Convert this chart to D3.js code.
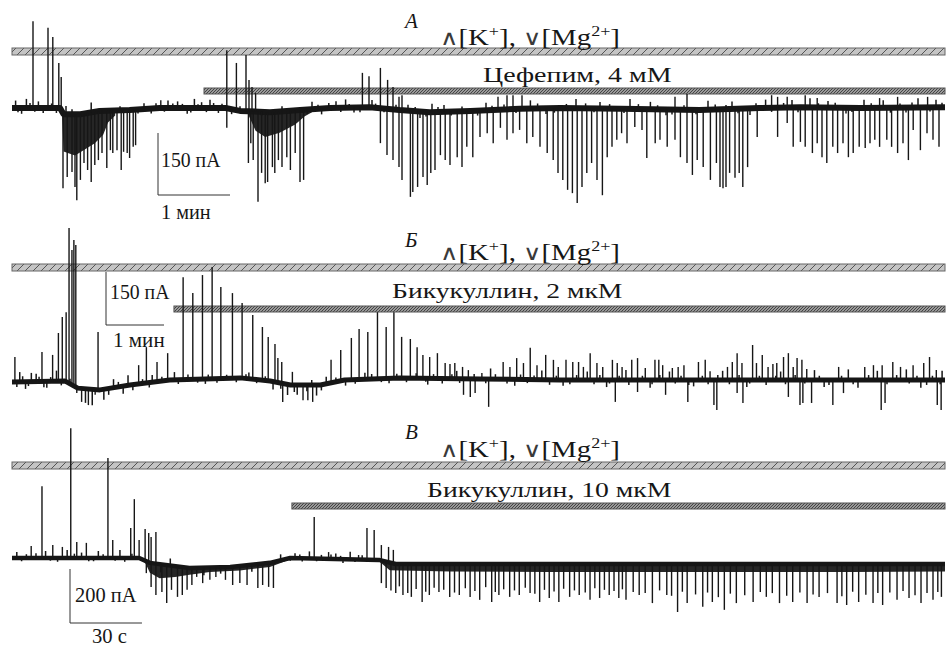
<!DOCTYPE html>
<html>
<head>
<meta charset="utf-8">
<script src="https://cdn.jsdelivr.net/npm/d3@7"></script>
<style>
  body { margin: 0; background: #fff; }
  text { font-family: "Liberation Serif", "Times New Roman", "DejaVu Serif", serif; }
</style>
</head>
<body>
<svg id="fig" width="946" height="646"></svg>
<script>
// ---------- data (time in s, current in pA relative to the starting holding level) ----------
// Panel A — cefepime
const baseA = [[0,0],[40,0],[43,-15],[57,-15],[73,-7],[98,-5],[123,0],[178,0],[190,-7],[215,-10],[240,-5],[265,0],[298,2],[323,-5],[348,-10],[382,-7],[423,-2],[457,0],[507,-2],[573,-5],[623,0],[657,2],[707,0],[777.5,2]];
const envA = [
  [[41.7,-15],[43,-105],[52.5,-115],[61,-100],[69,-85],[76,-65],[80,-35],[86,-18]],
  [[196,-10],[203,-55],[211,-70],[223,-60],[236,-40],[244,-20],[250,-10]]
];
const upA = [[17.5,210],[30,194],[34,172],[39,109],[41,75],[124,19],[179,140],[187,109],[195,128],[197.5,68],[200,51],[203,36],
  [292,85],[297.5,77],[307,97],[313,68],[317.5,51],[322.5,27],[325,31],[405,27],[412.5,31],[417.5,31],[425,31],
  [552.5,27],[562.5,34],[633,31],[638,27],[646,27],[661,31],[671,24],[723,24],[738,27],[763,27]];
const downA = [[42.5,-194],[46,-167],[50,-155],[52.5,-191],[54,-223],[57,-174],[60,-133],[63,-150],[66,-179],[69,-138],[72,-126],
  [75,-109],[79,-145],[82,-102],[84,-109],[87.5,-102],[91,-150],[93,-106],[96,-109],[98,-121],[101,-94],[103,-90],
  [179,-48],[197,-133],[199,-85],[201,-126],[205,-227],[208,-157],[211,-182],[213,-179],[217,-143],[219,-157],[222,-126],
  [225,-143],[229,-119],[232,-150],[236,-109],[240,-179],[243,-174],
  [307,-85],[312.5,-114],[317.5,-126],[322.5,-143],[325,-174],[332,-215],[334,-203],[338,-191],[342.5,-167],[346,-186],
  [349,-157],[352.5,-150],[357,-114],[361,-126],[365,-138],[371,-119],[375,-143],[379,-94],[384,-119],[390,-70],[396,-61],
  [401,-85],[407,-48],[412.5,-77],[417.5,-61],[423,-53],[429,-85],[434,-70],[440,-94],[446,-109],[451,-126],[455,-157],
  [459,-174],[463,-198],[467,-206],[471,-230],[475,-191],[479,-157],[483,-133],[487.5,-174],[492,-211],[496,-119],[500,-94],
  [504,-77],[508,-61],[512.5,-85],[519,-46],[525,-53],[529,-121],[536,-85],[540,-77],[546,-94],[552.5,-77],[557,-119],
  [562.5,-133],[567,-162],[571,-126],[576,-143],[582,-174],[587,-133],[590,-191],[592.5,-194],[595,-191],[598,-157],
  [602.5,-169],[606,-157],[609,-191],[613,-143],[621,-70],[638,-70],[646,-36],[651,-94],[657,-82],[661,-94],[667,-109],
  [671,-85],[675,-119],[679,-133],[684,-94],[688,-109],[692.5,-85],[697,-119],[701,-109],[706,-94],[711,-97],[715,-85],
  [719,-77],[723,-94],[729,-77],[733,-94],[738,-109],[742.5,-85],[747,-126],[751,-53],[757,-102],[762.5,-61],[767.5,-77],[772.5,-94]];
const noiseA = [[3,18],[8,-14],[12,22],[22,16],[26,-12],[45,20],[66,24],[110,14],[116,-12],[130,18],[138,16],[146,-14],[152,22],
  [158,14],[165,20],[172,-12],[250,18],[258,-14],[270,16],[278,20],[285,-12],[300,18],[330,14],[340,-16],[350,20],[360,16],
  [395,18],[432,20],[445,-14],[470,22],[490,16],[515,24],[532,18],[545,-14],[580,22],[600,18],[615,-16],[628,20],[650,18],
  [665,22],[680,16],[695,-14],[710,20],[726,18],[745,-12],[755,22],[770,18],
  [5,-10],[15,12],[19,-9],[33,11],[37,-12],[50,12],[90,10],[105,-10],[120,12],[127,-9],[134,11],[142,10],[149,-11],[155,9],
  [162,-10],[168,12],[175,10],[183,-12],[190,11],[208,-10],[225,12],[246,-11],[255,10],[264,12],[274,-10],[281,9],[290,-12],
  [303,10],[310,-9],[320,12],[336,10],[345,-11],[355,12],[366,-10],[375,11],[388,-12],[400,10],[410,12],[420,-10],[438,12],
  [452,-11],[462,10],[478,12],[485,-9],[498,11],[510,-10],[522,12],[538,10],[550,-12],[560,11],[570,-10],[586,12],[595,10],
  [605,-11],[620,12],[633,-10],[643,11],[655,-12],[672,10],[686,12],[700,-10],[716,11],[732,-12],[740,10],[750,12],[765,-10],[775,11]];

// Panel Б — bicuculline 2 µM
const baseB = [[0,-6],[55,-3],[68,-23],[91,-28],[122,-14],[163,0],[236,6],[267,-3],[288,-14],[319,-14],[344,0],[401,6],[484,3],[567,0],[712,0],[965,0]];
const envB = [];
const upB = [[3,65],[31,79],[42,71],[48,133],[52,178],[56,192],[59,430],[62,368],[64,396],[66,382],[89,136],[131,42],[139,93],[150,51],[161,76],
  [177,291],[187,246],[197,297],[207,320],[216,263],[228,246],[238,218],[249,184],[259,150],[265,122],[272,102],[275,62],[279,51],[290,23],
  [330,57],[340,85],[351,119],[359,144],[368,136],[378,192],[387,150],[395,192],[403,122],[412,116],[419,93],[425,71],[432,65],[440,76],
  [448,48],[453,45],[458,48],[466,37],[472,28],[486,20],[508,51],[515,37],[522,62],[529,48],[536,91],[543,42],[552,71],[560,57],[565,37],
  [573,57],[580,51],[586,51],[591,37],[598,76],[605,48],[611,37],[621,57],[626,48],[631,37],[641,57],[647,62],[655,34],[665,57],[669,57],
  [673,42],[683,34],[689,37],[695,42],[710,51],[717,57],[722,25],[740,37],[745,51],[750,76],[755,48],[766,99],[770,48],[776,71],[782,37],
  [787,45],[791,48],[798,65],[803,76],[808,37],[812,62],[817,57],[822,31],[855,37],[882,37],[891,42],[900,42],[911,51],[919,37],[932,42],
  [943,48],[949,65],[956,28]];
const downB = [[67,-37],[72,-62],[79,-71],[86,-42],[280,-62],[301,-57],[306,-57],[311,-62],[467,-42],[474,-48],[479,-37],[493,-76],
  [624,-62],[647,-34],[676,-42],[699,-62],[726,-71],[729,-85],[750,-37],[756,-65],[803,-48],[815,-71],[818,-65],[827,-65],[849,-71],
  [860,-37],[899,-85],[903,-65],[957,-71],[961,-85]];
const noiseB = [[8,28],[14,-20],[20,25],[25,22],[36,-18],[46,30],[76,-40],[83,-45],[95,-30],[105,24],[115,-22],[120,28],[145,20],
  [168,22],[200,-14],[245,18],[270,-22],[285,-30],[295,-28],[315,-30],[325,20],[345,-16],[365,18],[390,-14],[430,-18],[460,22],
  [495,30],[520,-18],[548,26],[570,-16],[595,24],[615,-20],[635,28],[660,-22],[680,24],[705,-18],[735,26],[760,-20],[795,24],
  [830,28],[840,-20],[865,30],[875,-22],[895,26],[925,30],[940,-22],[962,26],
  [5,-14],[11,16],[17,-12],[28,14],[33,-16],[40,12],[51,-12],[60,14],[100,-18],[110,14],[125,-16],[135,12],[142,-14],[155,12],
  [172,-12],[182,14],[192,-10],[203,12],[212,-12],[222,10],[232,-12],[242,12],[253,-10],[262,12],[278,-16],[292,-20],[305,-18],
  [310,14],[320,-16],[335,12],[355,-12],[372,14],[382,-10],[398,12],[408,-12],[418,14],[428,-10],[436,12],[445,-14],[455,12],
  [463,-12],[478,14],[490,-12],[500,14],[512,-12],[526,14],[533,-10],[540,12],[556,-14],[563,12],[577,-12],[584,14],[602,-12],
  [608,14],[618,-10],[628,12],[638,-14],[652,12],[662,-12],[670,14],[686,-10],[692,12],[700,-14],[714,12],[720,-12],[730,14],
  [742,-12],[752,14],[763,-10],[773,12],[780,-14],[790,12],[800,-12],[810,14],[820,-10],[835,12],[845,-14],[858,12],[870,-12],
  [886,14],[905,-12],[915,14],[928,-10],[936,12],[946,-14],[952,12],[960,-12]];

// Panel В — bicuculline 10 µM
const baseC = [[0,0],[53,0],[57.5,-18],[74,-37],[91,-33],[107.5,-18],[116,0],[153,-7],[160,-22],[389,-22]];
const envC = [
  [[55,-7],[57.5,-55],[61.5,-75],[68,-70],[74,-62],[82.5,-52],[95,-46],[107.5,-33],[114,-12]],
  [[153,-12],[157.5,-45],[182.5,-50],[224,-52],[266,-52],[307.5,-52],[349,-52],[389,-50]]
];
const upC = [[8,44],[12.5,266],[17,48],[21,41],[24.5,481],[27,59],[31,56],[40,370],[42,67],[49.5,111],[51,218],[53,67],[55.5,107],
  [57,93],[58,78],[60,96],[126,152],[132,22],[144.5,11],[148,111],[151,104],[154,48],[157,41],[159,30]];
const downC = [[56,-56],[58,-107],[60,-137],[62.5,-126],[64.5,-167],[66.5,-118],[69,-144],[71,-137],[73,-118],[75,-100],[77,-70],
  [79.5,-93],[82.5,-81],[85,-70],[89,-81],[92,-100],[95,-93],[98,-100],[102.5,-111],[104.5,-100],[107,-107],[109,-111],
  [154,-93],[156,-111],[160,-130],[163,-137],[166.5,-144],[171,-163],[174,-137],[178,-126],[182.5,-144],[186.5,-137],[191,-144],
  [195,-155],[200,-163],[203,-137],[207.5,-144],[211.5,-137],[216,-130],[220,-163],[224,-148],[228,-163],[232.5,-144],[236.5,-137],
  [241,-155],[245,-148],[249,-137],[253,-148],[256,-155],[261.5,-137],[267,-167],[273,-137],[277.5,-200],[281.5,-167],[288,-181],
  [292,-163],[297,-192],[302,-167],[309,-163],[314.5,-144],[320,-167],[325.5,-163],[331.5,-167],[336.5,-144],[344,-167],[348,-174],
  [353,-163],[359,-167],[363,-174],[369,-155],[374,-148],[379,-167],[384,-155],[387.5,-144],
  [158,-120],[161.5,-105],[165,-130],[168.5,-115],[172.5,-125],[176,-110],[180,-118],[184.5,-128],[189,-112],[193,-122],[197.5,-108],
  [201.5,-126],[205,-116],[209.5,-120],[214,-110],[218,-132],[222,-118],[226,-124],[230,-114],[234.5,-120],[239,-128],[243,-112],
  [247,-118],[251,-122],[254.5,-116],[259,-126],[264,-130],[270,-120],[275,-140],[279.5,-125],[285,-135],[290,-128],[294.5,-145],
  [299.5,-132],[305.5,-138],[312,-126],[317,-130],[323,-140],[328.5,-128],[334,-135],[340,-130],[346,-142],[350.5,-125],[356,-136],
  [361,-130],[366,-128],[371.5,-122],[376.5,-138],[381.5,-130],[386,-126]];
const noiseC = [[2,22],[4,-12],[10,18],[14,26],[19,-14],[23,30],[29,20],[34,-12],[36,26],[45,30],[47,-14],[62,-30],[66,26],
  [80,-28],[87,-24],[100,-26],[112,22],[118,18],[121,-12],[124,26],[129,14],[135,20],[138,-14],[141,28],
  [6,14],[16,-10],[26,16],[32,-12],[38,14],[43,-10],[50,16],[116,-10],[120,14],[127,-10],[133,16],[137,12],[143,-10],[146,16]];

// ---------- layout ----------
const panels = [
  { label: "А", drug: "Цефепим, 4 мМ", dur: 777.5, onset: 160, base: baseA, env: envA, up: upA, down: downA, noise: noiseA,
    y0: 108, barPA: 150, barPx: 62, barS: 60, barSLabel: "1 мин", barPALabel: "150 пА", bandW: 6,
    labelY: 28, condY: 45, condW: 180, drugX: 483, drugY: 82, drugW: 189, bar1: 48, bar2: 88,
    sbX: 158, sbTop: 133, sbTextX: 161, sbTextY: 167, sbTextW: 60, sbTimeX: 161, sbTimeY: 219, sbTimeW: 50 },
  { label: "Б", drug: "Бикукуллин, 2 мкМ", dur: 965, onset: 167.5, base: baseB, env: envB, up: upB, down: downB, noise: noiseB,
    y0: 380, barPA: 150, barPx: 53, barS: 60, barSLabel: "1 мин", barPALabel: "150 пА", bandW: 5,
    labelY: 247, condY: 260, condW: 180, drugX: 392, drugY: 298, drugW: 231, bar1: 264, bar2: 306,
    sbX: 106, sbTop: 272, sbTextX: 110, sbTextY: 299, sbTextW: 60, sbTimeX: 113, sbTimeY: 347, sbTimeW: 52 },
  { label: "В", drug: "Бикукуллин, 10 мкМ", dur: 389, onset: 116.7, base: baseC, env: envC, up: upC, down: downC, noise: noiseC,
    y0: 558, barPA: 200, barPx: 54, barS: 30, barSLabel: "30 с", barPALabel: "200 пА", bandW: 4.5,
    labelY: 439, condY: 457, condW: 180, drugX: 427, drugY: 497, drugW: 245, bar1: 462, bar2: 503,
    sbX: 70, sbTop: 569, sbTextX: 75, sbTextY: 602, sbTextW: 62, sbTimeX: 92, sbTimeY: 643, sbTimeW: 35 }
];

const svg = d3.select("#fig");
const defs = svg.append("defs");

// light hatch for the high-K+/low-Mg2+ bar
const p1 = defs.append("pattern").attr("id", "hatchLight").attr("patternUnits", "userSpaceOnUse")
  .attr("width", 8).attr("height", 8);
p1.append("rect").attr("width", 8).attr("height", 8).attr("fill", "#c4c4c4");
p1.append("path").attr("d", "M-1,9 L9,-1 M-1,1 L1,-1 M7,9 L9,7").attr("stroke", "#555").attr("stroke-width", 1);

// dense hatch for the drug bar
const p2 = defs.append("pattern").attr("id", "hatchDark").attr("patternUnits", "userSpaceOnUse")
  .attr("width", 3).attr("height", 3);
p2.append("rect").attr("width", 3).attr("height", 3).attr("fill", "#9a9a9a");
p2.append("path").attr("d", "M-1,1 L1,-1 M0,3 L3,0 M2,4 L4,2").attr("stroke", "#3a3a3a").attr("stroke-width", 0.9);

const X0 = 12, X1 = 945;
const ink = "#161616";

// text stretched horizontally to the width it has in the figure
function fitText(sel, x, y, w) {
  const bw = sel.node().getBBox().width;
  sel.attr("transform", `translate(${x},${y}) scale(${w / bw},1)`);
  return sel;
}

panels.forEach(p => {
  const g = svg.append("g");
  const x = d3.scaleLinear().domain([0, p.dur]).range([X0, X1]);
  const y = d3.scaleLinear().domain([0, p.barPA]).range([p.y0, p.y0 - p.barPx]);
  const baseAt = d3.scaleLinear().domain(p.base.map(d => d[0])).range(p.base.map(d => d[1])).clamp(true);

  // application bars
  g.append("rect").attr("x", x(0)).attr("y", p.bar1).attr("width", x(p.dur) - x(0)).attr("height", 7)
    .attr("fill", "url(#hatchLight)").attr("stroke", "#666").attr("stroke-width", 1);
  g.append("rect").attr("x", x(p.onset)).attr("y", p.bar2).attr("width", x(p.dur) - x(p.onset)).attr("height", 6)
    .attr("fill", "url(#hatchDark)").attr("stroke", "#555").attr("stroke-width", 1);

  // texts
  g.append("text").attr("x", 405).attr("y", p.labelY).attr("font-size", 21).attr("font-style", "italic").attr("fill", ink).text(p.label);
  const c = g.append("text").attr("font-size", 24).attr("fill", ink);
  c.append("tspan").attr("font-size", 21).attr("fill", "#3a3a3a").text("∧");
  c.append("tspan").text("[K");
  c.append("tspan").attr("dy", -9).attr("font-size", 15).text("+");
  c.append("tspan").attr("dy", 9).text("], ");
  c.append("tspan").attr("font-size", 21).attr("fill", "#3a3a3a").text("∨");
  c.append("tspan").text("[Mg");
  c.append("tspan").attr("dy", -9).attr("font-size", 15).text("2+");
  c.append("tspan").attr("dy", 9).text("]");
  fitText(c, 440, p.condY, p.condW);
  fitText(g.append("text").attr("font-size", 21).attr("fill", ink).text(p.drug), p.drugX, p.drugY, p.drugW);

  // dense burst fill
  const area = d3.area().x(d => x(d[0])).y0(d => y(baseAt(d[0]))).y1(d => y(d[1]));
  p.env.forEach(seg => g.append("path").attr("d", area(seg)).attr("fill", "#262626"));

  // baseline (holding current, noisy band)
  const line = d3.line().x(d => x(d[0])).y(d => y(d[1]));
  g.append("path").attr("d", line(p.base)).attr("fill", "none").attr("stroke", ink)
    .attr("stroke-width", p.bandW).attr("stroke-linejoin", "round");

  // small fluctuations riding on the baseline
  g.selectAll("line.nz").data(p.noise).join("line").attr("class", "nz")
    .attr("x1", d => x(d[0])).attr("x2", d => x(d[0]))
    .attr("y1", d => y(baseAt(d[0]))).attr("y2", d => y(baseAt(d[0]) + d[1]))
    .attr("stroke", ink).attr("stroke-width", 1.5);

  // events
  g.selectAll("line.ev").data(p.up.concat(p.down)).join("line").attr("class", "ev")
    .attr("x1", d => x(d[0])).attr("x2", d => x(d[0]))
    .attr("y1", d => y(baseAt(d[0]))).attr("y2", d => y(d[1]))
    .attr("stroke", ink).attr("stroke-width", 1.4);

  // scale bar
  const sbBottom = p.sbTop + (y(0) - y(p.barPA));
  const sbRight = p.sbX + (x(p.barS) - x(0));
  g.append("path").attr("d", `M${p.sbX},${p.sbTop} V${sbBottom} H${sbRight}`)
    .attr("fill", "none").attr("stroke", "#333").attr("stroke-width", 1);
  fitText(g.append("text").attr("font-size", 20).attr("fill", ink).text(p.barPALabel), p.sbTextX, p.sbTextY, p.sbTextW);
  fitText(g.append("text").attr("font-size", 20).attr("fill", ink).text(p.barSLabel), p.sbTimeX, p.sbTimeY, p.sbTimeW);
});
</script>
</body>
</html>
